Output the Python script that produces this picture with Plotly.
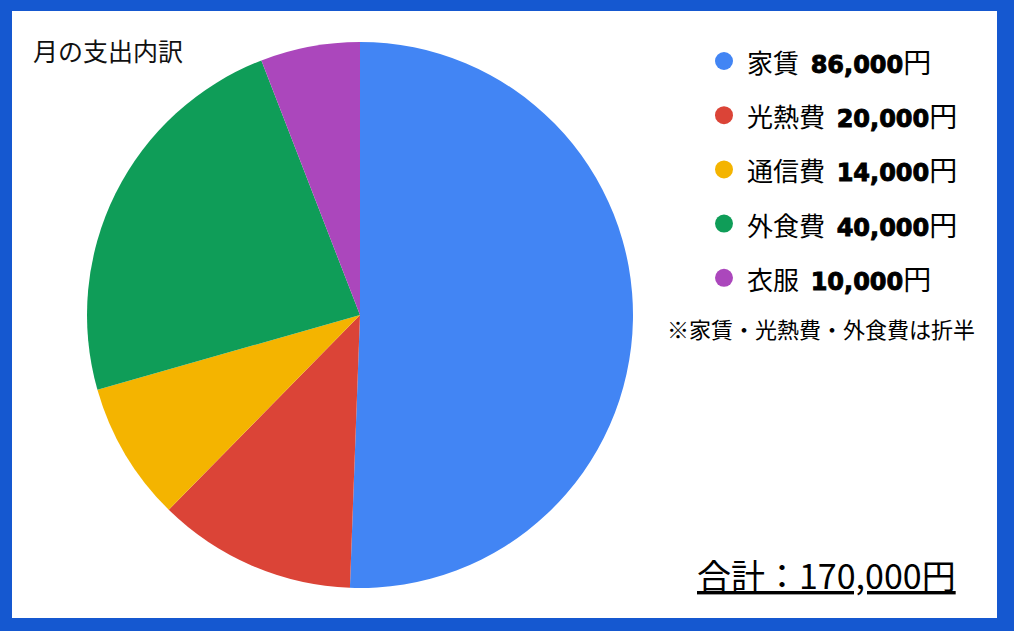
import plotly.graph_objects as go

categories = ["家賃", "光熱費", "通信費", "外食費", "衣服"]
values = [86000, 20000, 14000, 40000, 10000]
colors = ["#4285F4", "#DB4437", "#F4B400", "#0F9D58", "#AB47BC"]
title_text = "月の支出内訳"
note_text = "※家賃・光熱費・外食費は折半"

W, H = 1014, 631
FONT = "Noto Sans CJK JP"
NUMFONT = "DejaVu Sans"
BORDER = "#1558D0"

def px(x):
    return x / W

def py(y):
    return 1 - y / H

cx, cy, r = 360, 315, 273

fig = go.Figure()
fig.add_trace(go.Pie(
    labels=categories,
    values=values,
    sort=False,
    direction="clockwise",
    rotation=0,
    textinfo="none",
    hoverinfo="label+value+percent",
    marker=dict(colors=colors, line=dict(width=0)),
    showlegend=False,
    domain=dict(x=[px(cx - r), px(cx + r)], y=[py(cy + r), py(cy - r)]),
))

annotations = []
shapes = []
annotations.append(dict(
    x=px(31), y=py(50), xref="paper", yref="paper", xanchor="left", yanchor="middle",
    text=title_text, showarrow=False, font=dict(family=FONT, size=25, color="#111111"),
))

row0, step = 61, 54.2
num_style = (f"font-family:'{NUMFONT}';font-weight:bold;font-size:24px;"
             "stroke:#000000;stroke-width:0.9px")
yen_style = "font-size:28px"
for i, (c, v, col) in enumerate(zip(categories, values, colors)):
    yy = row0 + i * step
    shapes.append(dict(
        type="circle", xref="paper", yref="paper",
        x0=px(724 - 9), x1=px(724 + 9), y0=py(yy + 9), y1=py(yy - 9),
        fillcolor=col, line=dict(width=0),
    ))
    annotations.append(dict(
        x=px(745), y=py(yy), xref="paper", yref="paper", xanchor="left", yanchor="middle",
        text=(f"{c}&nbsp; <span style=\"{num_style}\">{v:,}</span>"
              f"<span style=\"{yen_style}\">円</span>"),
        showarrow=False,
        font=dict(family=FONT, size=26, color="#000000"),
    ))

annotations.append(dict(
    x=px(665), y=py(328), xref="paper", yref="paper", xanchor="left", yanchor="middle",
    text=note_text, showarrow=False, font=dict(family=FONT, size=22, color="#000000"),
))

total = sum(values)
annotations.append(dict(
    x=px(695), y=py(574), xref="paper", yref="paper", xanchor="left", yanchor="middle",
    text=f"<u>合計：{total:,}円</u>", showarrow=False,
    font=dict(family=FONT, size=34, color="#000000"),
))

shapes += [
    dict(type="rect", xref="paper", yref="paper", x0=0, x1=1, y0=py(11), y1=1,
         fillcolor=BORDER, line=dict(width=0), layer="above"),
    dict(type="rect", xref="paper", yref="paper", x0=0, x1=1, y0=0, y1=py(618),
         fillcolor=BORDER, line=dict(width=0), layer="above"),
    dict(type="rect", xref="paper", yref="paper", x0=0, x1=px(12), y0=0, y1=1,
         fillcolor=BORDER, line=dict(width=0), layer="above"),
    dict(type="rect", xref="paper", yref="paper", x0=px(997), x1=1, y0=0, y1=1,
         fillcolor=BORDER, line=dict(width=0), layer="above"),
]

fig.update_layout(
    width=W, height=H,
    margin=dict(l=0, r=0, t=0, b=0),
    paper_bgcolor="white", plot_bgcolor="white",
    annotations=annotations,
    shapes=shapes,
)

fig.write_html("out.html", config={"displayModeBar": False},
               post_script="document.body.style.margin='0px';document.body.style.overflow='hidden';")
